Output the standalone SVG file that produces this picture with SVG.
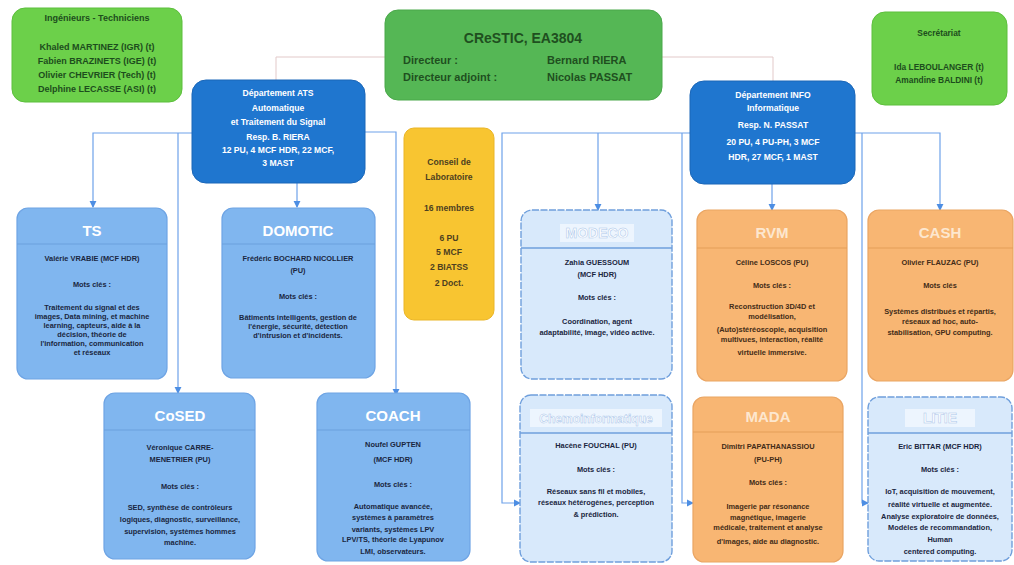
<svg xmlns="http://www.w3.org/2000/svg" width="1014" height="565" viewBox="0 0 1014 565">
<defs>
<style>
text{font-family:"Liberation Sans",Arial,sans-serif;font-weight:bold;text-anchor:middle}
.lime{fill:#6cd04a;stroke:#5cbf3c;stroke-width:1}
.green{fill:#55b755;stroke:#4aa84a;stroke-width:1}
.gt{fill:#1d4d1d;font-size:9px}
.ct{fill:#1f4f1f;font-size:11px;text-anchor:start}
.dept{fill:#1f76cf;stroke:#1a66b8;stroke-width:1}
.dt{fill:#ffffff;font-size:8.6px}
.yel{fill:#f8c531;stroke:#eab527;stroke-width:1}
.yt{fill:#4d4020;font-size:8.6px}
.team{fill:#80b6ef;stroke:#6ea4e4;stroke-width:1.2}
.pale{fill:#d8e9fb;stroke:#6f9fdc;stroke-width:1.4;stroke-dasharray:7 1.5}
.orng{fill:#f8b673;stroke:#eaa563;stroke-width:1.2}
.sepb{stroke:#6a9fdd;stroke-width:1.2}
.sepp{stroke:#6f9fdc;stroke-width:1.4}
.sepo{stroke:#e39d58;stroke-width:1.2}
.hd{fill:#ffffff;font-size:15px}
.hband{fill:#edf5fe}
.hdp{fill:#ffffff;font-size:14px;stroke:#aac6ea;stroke-width:0.5}
.hdo{fill:#fde7cf;font-size:15px}
.bt{fill:#1a2640;font-size:7.4px}
.ot{fill:#432c18;font-size:7.4px}
.con{fill:none;stroke:#6ea2ea;stroke-width:1.2}
.top{fill:none;stroke:#e2c9c9;stroke-width:1}
</style>
<marker id="ar" viewBox="0 0 8 8" refX="7" refY="4" markerWidth="6" markerHeight="6" orient="auto">
<path d="M0,0 L8,4 L0,8 z" fill="#4d8ee3"/>
</marker>
</defs>
<rect width="1014" height="565" fill="#ffffff"/>

<g id="connectors">
<polyline class="top" points="276,80 276,57 385,57"/>
<polyline class="top" points="662,57 773,57 773,82"/>
<polyline class="con" points="192,133 93,133 93,207" marker-end="url(#ar)"/>
<polyline class="con" points="178,133 178,393" marker-end="url(#ar)"/>
<polyline class="con" points="297,183 297,207" marker-end="url(#ar)"/>
<polyline class="con" points="365,132 396,132 396,395" marker-end="url(#ar)"/>
<polyline class="con" points="692,133 502,133 502,503 520,503" marker-end="url(#ar)"/>
<polyline class="con" points="598,133 598,210" marker-end="url(#ar)"/>
<polyline class="con" points="682,133 682,503 693,503" marker-end="url(#ar)"/>
<polyline class="con" points="772,180 772,210" marker-end="url(#ar)"/>
<polyline class="con" points="855,133 940,133 940,210" marker-end="url(#ar)"/>
<polyline class="con" points="862,133 862,503 868,503" marker-end="url(#ar)"/>
</g>

<g id="ingenieurs">
<rect class="lime" x="12" y="8" width="170" height="94" rx="13"/>
<text class="gt" x="97" y="21">Ingénieurs - Techniciens</text>
<text class="gt" x="97" y="50">Khaled MARTINEZ (IGR) (t)</text>
<text class="gt" x="97" y="64">Fabien BRAZINETS (IGE) (t)</text>
<text class="gt" x="97" y="78">Olivier CHEVRIER (Tech) (t)</text>
<text class="gt" x="97" y="92">Delphine LECASSE (ASI) (t)</text>
</g>

<g id="crestic">
<rect class="green" x="385" y="10" width="277" height="90" rx="13"/>
<text x="523" y="43" style="fill:#1f4f1f;font-size:14px">CReSTIC, EA3804</text>
<text class="ct" x="403" y="64">Directeur :</text>
<text class="ct" x="547" y="64">Bernard RIERA</text>
<text class="ct" x="403" y="81">Directeur adjoint :</text>
<text class="ct" x="547" y="81">Nicolas PASSAT</text>
</g>

<g id="secretariat">
<rect class="lime" x="872" y="12" width="135" height="93" rx="13"/>
<text class="gt" x="939" y="36" style="font-size:8.4px">Secrétariat</text>
<text class="gt" x="939" y="70" style="font-size:8.4px">Ida LEBOULANGER (t)</text>
<text class="gt" x="939" y="83" style="font-size:8.4px">Amandine BALDINI (t)</text>
</g>

<g id="ats">
<rect class="dept" x="192" y="80" width="173" height="103" rx="14"/>
<text class="dt" x="278" y="96">Département ATS</text>
<text class="dt" x="278" y="111">Automatique</text>
<text class="dt" x="278" y="125">et Traitement du Signal</text>
<text class="dt" x="278" y="140">Resp. B. RIERA</text>
<text class="dt" x="278" y="153">12 PU, 4 MCF HDR, 22 MCF,</text>
<text class="dt" x="278" y="166">3 MAST</text>
</g>

<g id="conseil">
<rect class="yel" x="404" y="128" width="90" height="192" rx="10"/>
<text class="yt" x="449" y="165">Conseil de</text>
<text class="yt" x="449" y="180">Laboratoire</text>
<text class="yt" x="449" y="211">16 membres</text>
<text class="yt" x="449" y="241">6 PU</text>
<text class="yt" x="449" y="255">5 MCF</text>
<text class="yt" x="449" y="270">2 BIATSS</text>
<text class="yt" x="449" y="286">2 Doct.</text>
</g>

<g id="info">
<rect class="dept" x="690" y="81" width="165" height="103" rx="14"/>
<text class="dt" x="773" y="98">Département INFO</text>
<text class="dt" x="773" y="111">Informatique</text>
<text class="dt" x="773" y="128">Resp. N. PASSAT</text>
<text class="dt" x="773" y="145">20 PU, 4 PU-PH, 3 MCF</text>
<text class="dt" x="773" y="160">HDR, 27 MCF, 1 MAST</text>
</g>

<g id="ts">
<rect class="team" x="17" y="208" width="150" height="171" rx="11"/>
<line class="sepb" x1="17" y1="244" x2="167" y2="244"/>
<text class="hd" x="92" y="236">TS</text>
<text class="bt" x="92" y="261">Valérie VRABIE (MCF HDR)</text>
<text class="bt" x="92" y="287">Mots clés :</text>
<text class="bt" x="92" y="310">Traitement du signal et des</text>
<text class="bt" x="92" y="319">images, Data mining, et machine</text>
<text class="bt" x="92" y="328">learning, capteurs, aide à la</text>
<text class="bt" x="92" y="337">décision, théorie de</text>
<text class="bt" x="92" y="346">l'information, communication</text>
<text class="bt" x="92" y="355">et réseaux</text>
</g>

<g id="domotic">
<rect class="team" x="222" y="208" width="153" height="170" rx="11"/>
<line class="sepb" x1="222" y1="244" x2="375" y2="244"/>
<text class="hd" x="298" y="236">DOMOTIC</text>
<text class="bt" x="298" y="261">Frédéric BOCHARD NICOLLIER</text>
<text class="bt" x="298" y="273">(PU)</text>
<text class="bt" x="298" y="299">Mots clés :</text>
<text class="bt" x="298" y="320">Bâtiments intelligents, gestion de</text>
<text class="bt" x="298" y="329">l'énergie, sécurité, détection</text>
<text class="bt" x="298" y="338">d'intrusion et d'incidents.</text>
</g>

<g id="modeco">
<rect class="pale" x="521" y="210" width="151" height="169" rx="11"/>
<rect class="hband" x="560" y="224" width="74" height="18"/>
<line class="sepp" x1="521" y1="248" x2="672" y2="248"/>
<text class="hdp" x="597" y="238">MODECO</text>
<text class="bt" x="597" y="265">Zahia GUESSOUM</text>
<text class="bt" x="597" y="277">(MCF HDR)</text>
<text class="bt" x="597" y="300">Mots clés :</text>
<text class="bt" x="597" y="324">Coordination, agent</text>
<text class="bt" x="597" y="335">adaptabilité, Image, vidéo active.</text>
</g>

<g id="rvm">
<rect class="orng" x="697" y="210" width="150" height="171" rx="11"/>
<line class="sepo" x1="697" y1="248" x2="847" y2="248"/>
<text class="hdo" x="772" y="238">RVM</text>
<text class="ot" x="772" y="265">Céline LOSCOS (PU)</text>
<text class="ot" x="772" y="288">Mots clés :</text>
<text class="ot" x="772" y="309">Reconstruction 3D/4D et</text>
<text class="ot" x="772" y="319">modélisation,</text>
<text class="ot" x="772" y="332">(Auto)stéréoscopie, acquisition</text>
<text class="ot" x="772" y="342">multivues, interaction, réalité</text>
<text class="ot" x="772" y="355">virtuelle immersive.</text>
</g>

<g id="cash">
<rect class="orng" x="868" y="210" width="145" height="171" rx="11"/>
<line class="sepo" x1="868" y1="248" x2="1013" y2="248"/>
<text class="hdo" x="940" y="238">CASH</text>
<text class="ot" x="940" y="265">Olivier FLAUZAC (PU)</text>
<text class="ot" x="940" y="288">Mots clés</text>
<text class="ot" x="940" y="314">Systèmes distribués et répartis,</text>
<text class="ot" x="940" y="324">réseaux ad hoc, auto-</text>
<text class="ot" x="940" y="335">stabilisation, GPU computing.</text>
</g>

<g id="cosed">
<rect class="team" x="104" y="393" width="151" height="166" rx="11"/>
<line class="sepb" x1="104" y1="430" x2="255" y2="430"/>
<text class="hd" x="180" y="421">CoSED</text>
<text class="bt" x="180" y="450">Véronique CARRE-</text>
<text class="bt" x="180" y="462">MENETRIER (PU)</text>
<text class="bt" x="180" y="489">Mots clés :</text>
<text class="bt" x="180" y="510">SED, synthèse de contrôleurs</text>
<text class="bt" x="180" y="522">logiques, diagnostic, surveillance,</text>
<text class="bt" x="180" y="534">supervision, systèmes hommes</text>
<text class="bt" x="180" y="545">machine.</text>
</g>

<g id="coach">
<rect class="team" x="317" y="393" width="153" height="168" rx="11"/>
<line class="sepb" x1="317" y1="430" x2="470" y2="430"/>
<text class="hd" x="393" y="421">COACH</text>
<text class="bt" x="393" y="447">Noufel GUPTEN</text>
<text class="bt" x="393" y="462">(MCF HDR)</text>
<text class="bt" x="393" y="487">Mots clés :</text>
<text class="bt" x="393" y="509">Automatique avancée,</text>
<text class="bt" x="393" y="520">systèmes à paramètres</text>
<text class="bt" x="393" y="532">variants, systèmes LPV</text>
<text class="bt" x="393" y="542">LPV/TS, théorie de Lyapunov</text>
<text class="bt" x="393" y="554">LMI, observateurs.</text>
</g>

<g id="syscom">
<rect class="pale" x="520" y="395" width="152" height="167" rx="11"/>
<rect class="hband" x="530" y="409" width="132" height="18"/>
<line class="sepp" x1="520" y1="433" x2="672" y2="433"/>
<text class="hdp" x="596" y="423" style="font-size:12px">Chemoinformatique</text>
<text class="bt" x="596" y="448">Hacène FOUCHAL (PU)</text>
<text class="bt" x="596" y="472">Mots clés :</text>
<text class="bt" x="596" y="494">Réseaux sans fil et mobiles,</text>
<text class="bt" x="596" y="505">réseaux hétérogènes, perception</text>
<text class="bt" x="596" y="517">&amp; prédiction.</text>
</g>

<g id="mada">
<rect class="orng" x="693" y="397" width="150" height="165" rx="11"/>
<line class="sepo" x1="693" y1="432" x2="843" y2="432"/>
<text class="hdo" x="768" y="422">MADA</text>
<text class="ot" x="768" y="449">Dimitri PAPATHANASSIOU</text>
<text class="ot" x="768" y="462">(PU-PH)</text>
<text class="ot" x="768" y="485">Mots clés :</text>
<text class="ot" x="768" y="509">Imagerie par résonance</text>
<text class="ot" x="768" y="520">magnétique, imagerie</text>
<text class="ot" x="768" y="530">médicale, traitement et analyse</text>
<text class="ot" x="768" y="544">d'images, aide au diagnostic.</text>
</g>

<g id="litie">
<rect class="pale" x="868" y="397" width="144" height="164" rx="11"/>
<rect class="hband" x="905" y="409" width="70" height="18"/>
<line class="sepp" x1="868" y1="433" x2="1012" y2="433"/>
<text class="hdp" x="940" y="423">LITIE</text>
<text class="bt" x="940" y="449">Eric BITTAR (MCF HDR)</text>
<text class="bt" x="940" y="472">Mots clés :</text>
<text class="bt" x="940" y="494">IoT, acquisition de mouvement,</text>
<text class="bt" x="940" y="507">réalité virtuelle et augmentée.</text>
<text class="bt" x="940" y="519">Analyse exploratoire de données,</text>
<text class="bt" x="940" y="530">Modèles de recommandation,</text>
<text class="bt" x="940" y="542">Human</text>
<text class="bt" x="940" y="554">centered computing.</text>
</g>
</svg>
